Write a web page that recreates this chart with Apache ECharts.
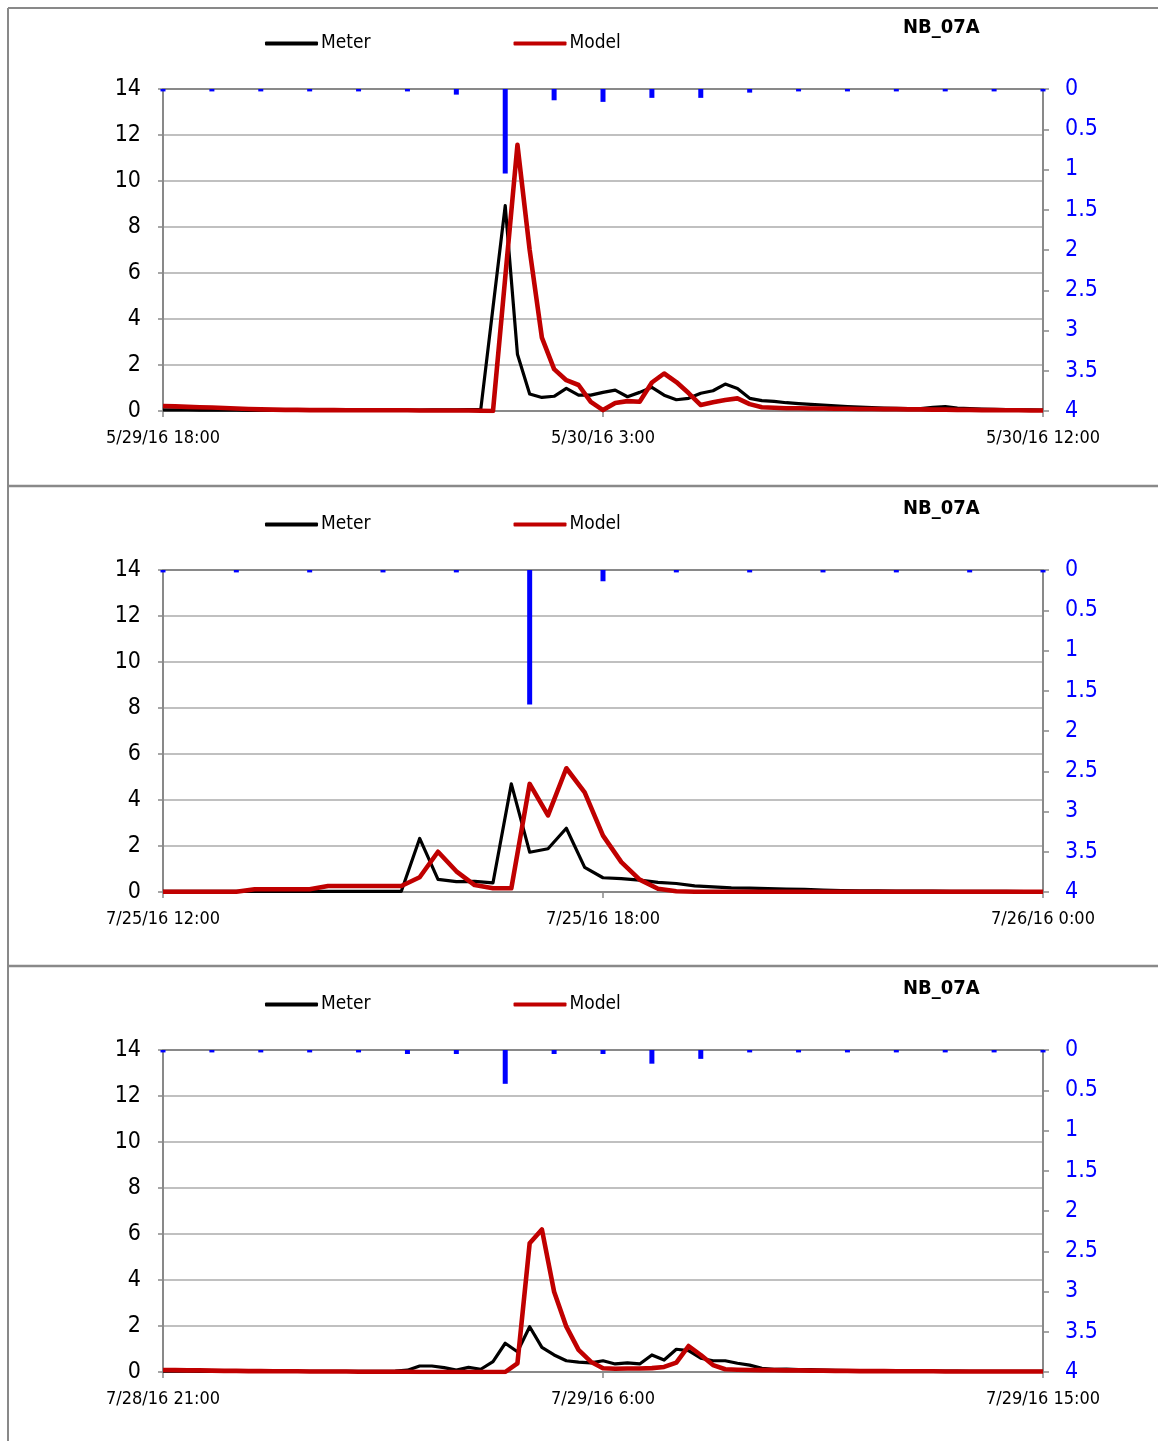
<!DOCTYPE html>
<html>
<head>
<meta charset="utf-8">
<script src="https://cdn.jsdelivr.net/npm/echarts@6/dist/echarts.min.js"></script>
<style>
  html, body { margin: 0; padding: 0; background: #fff; }
  #chart { width: 1158px; height: 1441px; }
</style>
</head>
<body>
<div id="chart"></div>
<script>
// Flow (left axis) sampled every 15 minutes; rainfall (right axis, inverted) hourly.
const STEP_HOURS = 0.25;

// Event 1: 5/29/16 18:00 - 5/30/16 12:00
const xLabels1 = ['5/29/16 18:00', '5/30/16 3:00', '5/30/16 12:00'];
const meter1 = [
  0.05,0.05,0.05,0.04,0.04,0.04,0.04,0.03,0.03,0.03,
  0.03,0.03,0.03,0.03,0.03,0.03,0.03,0.03,0.04,0.04,
  0.04,0.04,0.05,0.05,0.05,0.06,0.07,4.5,8.93,2.47,
  0.74,0.59,0.64,0.98,0.69,0.69,0.81,0.91,0.62,0.81,
  1.03,0.69,0.49,0.55,0.77,0.88,1.17,0.98,0.55,0.45,
  0.42,0.36,0.32,0.29,0.26,0.22,0.19,0.17,0.15,0.13,
  0.11,0.10,0.10,0.16,0.19,0.13,0.10,0.08,0.07,0.06,
  0.05,0.05,0.04
];
const model1 = [
  0.22,0.20,0.18,0.16,0.15,0.13,0.11,0.09,0.07,0.06,
  0.05,0.05,0.04,0.04,0.04,0.03,0.03,0.03,0.03,0.03,
  0.03,0.02,0.02,0.02,0.02,0.02,0.01,0.0,5.8,11.57,
  7.0,3.19,1.82,1.34,1.13,0.40,0.04,0.35,0.43,0.40,
  1.24,1.63,1.26,0.78,0.26,0.38,0.48,0.55,0.30,0.16,
  0.14,0.12,0.12,0.11,0.11,0.10,0.10,0.09,0.09,0.08,
  0.08,0.07,0.07,0.06,0.06,0.05,0.05,0.04,0.04,0.03,
  0.03,0.02,0.02
];
const rain1 = [0.03,0.03,0.03,0.03,0.03,0.03,0.07,1.05,0.14,0.16,0.11,0.11,0.045,0.03,0.03,0.03,0.03,0.03,0.03];

// Event 2: 7/25/16 12:00 - 7/26/16 0:00
const xLabels2 = ['7/25/16 12:00', '7/25/16 18:00', '7/26/16 0:00'];
const meter2 = [
  0.03,0.03,0.03,0.03,0.03,0.03,0.03,0.03,0.03,0.03,
  0.03,0.03,0.03,0.03,2.33,0.55,0.45,0.46,0.40,4.7,
  1.73,1.88,2.77,1.07,0.62,0.58,0.52,0.42,0.37,0.27,
  0.22,0.18,0.17,0.15,0.13,0.11,0.08,0.06,0.05,0.05,
  0.04,0.04,0.04,0.03,0.03,0.03,0.03,0.02,0.02
];
const model2 = [
  0.01,0.01,0.01,0.01,0.01,0.12,0.12,0.12,0.12,0.26,
  0.26,0.26,0.26,0.26,0.64,1.75,0.90,0.30,0.16,0.16,
  4.7,3.33,5.38,4.33,2.45,1.30,0.54,0.14,0.03,0.01,
  0.01,0.01,0.01,0.01,0.01,0.01,0.01,0.01,0.01,0.01,
  0.01,0.01,0.01,0.01,0.01,0.01,0.01,0.01,0.01
];
const rain2 = [0.03,0.03,0.03,0.03,0.03,1.67,0.14,0.03,0.03,0.03,0.03,0.03,0.03];

// Event 3: 7/28/16 21:00 - 7/29/16 15:00
const xLabels3 = ['7/28/16 21:00', '7/29/16 6:00', '7/29/16 15:00'];
const meter3 = [
  0.04,0.04,0.04,0.03,0.03,0.03,0.03,0.03,0.03,0.03,
  0.03,0.03,0.03,0.03,0.03,0.03,0.03,0.03,0.03,0.04,
  0.08,0.26,0.26,0.19,0.08,0.20,0.12,0.45,1.25,0.88,
  1.97,1.07,0.74,0.49,0.43,0.40,0.49,0.35,0.40,0.35,
  0.74,0.52,0.99,0.93,0.60,0.49,0.49,0.38,0.30,0.16,
  0.12,0.13,0.10,0.10,0.08,0.07,0.06,0.06,0.05,0.05,
  0.05,0.04,0.04,0.04,0.04,0.04,0.03,0.03,0.03,0.03,
  0.03,0.03,0.03
];
const model3 = [
  0.09,0.08,0.07,0.07,0.06,0.05,0.05,0.04,0.04,0.03,
  0.03,0.03,0.02,0.02,0.02,0.02,0.01,0.01,0.01,0.01,
  0.01,0.0,0.0,0.0,0.0,0.0,0.0,0.0,0.0,0.38,
  5.6,6.2,3.49,1.97,0.96,0.45,0.16,0.14,0.15,0.15,
  0.17,0.22,0.41,1.13,0.74,0.30,0.12,0.10,0.09,0.08,
  0.08,0.07,0.07,0.06,0.06,0.05,0.05,0.04,0.04,0.04,
  0.03,0.03,0.03,0.03,0.02,0.02,0.02,0.02,0.02,0.02,
  0.02,0.02,0.02
];
const rain3 = [0.03,0.03,0.03,0.03,0.03,0.05,0.05,0.42,0.05,0.05,0.17,0.11,0.03,0.03,0.03,0.03,0.03,0.03,0.03];

const flowTicks = { min: 0, max: 14, interval: 2 };
const rainTicks = { min: 0, max: 4, interval: 0.5 };
const siteName = 'NB_07A';
const seriesNames = ['Meter', 'Model'];

const events = [
  { labels: xLabels1, meter: meter1, model: model1, rain: rain1, top: 89,   span: 18 },
  { labels: xLabels2, meter: meter2, model: model2, rain: rain2, top: 570,  span: 12 },
  { labels: xLabels3, meter: meter3, model: model3, rain: rain3, top: 1050, span: 18 }
];

const FONT = '"Liberation Sans Narrow", "Arial Narrow", "DejaVu Sans Condensed", sans-serif';
const GRAY = '#898989';

const option = {
  animation: false,
  backgroundColor: '#fff',
  textStyle: { fontFamily: FONT },
  title: [], legend: [], grid: [], xAxis: [], yAxis: [], series: [],
  graphic: [
    { type: 'line', shape: { x1: 8, y1: 8, x2: 1158, y2: 8 }, style: { stroke: GRAY, lineWidth: 2 } },
    { type: 'line', shape: { x1: 8, y1: 8, x2: 8, y2: 1441 }, style: { stroke: GRAY, lineWidth: 2 } },
    { type: 'line', shape: { x1: 8, y1: 486, x2: 1158, y2: 486 }, style: { stroke: GRAY, lineWidth: 2.5 } },
    { type: 'line', shape: { x1: 8, y1: 966, x2: 1158, y2: 966 }, style: { stroke: GRAY, lineWidth: 2.5 } }
  ]
};

events.forEach((ev, i) => {
  const half = ev.span / 2;
  option.title.push({
    text: siteName, left: 903, top: ev.top - 71, padding: 0,
    textStyle: { fontFamily: FONT, fontSize: 20, fontWeight: 'bold', color: '#000' }
  });
  option.legend.push({
    data: seriesNames, left: 265, top: ev.top - 55, itemGap: 143, padding: 0,
    icon: 'roundRect', itemWidth: 53, itemHeight: 4,
    textStyle: { fontFamily: FONT, fontSize: 19, color: '#000', padding: [0, 0, 0, -2] },
    selectedMode: false
  });
  option.grid.push({ left: 163, right: 115, top: ev.top, height: 322, outerBoundsMode: 'none' });

  // bottom time axis
  option.xAxis.push({
    type: 'value', gridIndex: i, min: 0, max: ev.span, interval: half,
    axisLine: { show: true, onZero: false, lineStyle: { color: GRAY, width: 2 } },
    axisTick: { show: true, length: 6, lineStyle: { color: GRAY, width: 1.5 } },
    splitLine: { show: false },
    axisLabel: {
      margin: 18, fontSize: 18, color: '#000', fontFamily: FONT,
      formatter: v => ev.labels[Math.round(v / half)] || ''
    }
  });
  // top frame line of the plot
  option.xAxis.push({
    type: 'value', gridIndex: i, min: 0, max: ev.span, position: 'top',
    axisLine: { show: true, onZero: false, lineStyle: { color: GRAY, width: 2 } },
    axisTick: { show: false }, axisLabel: { show: false }, splitLine: { show: false }
  });

  // left flow axis
  option.yAxis.push({
    type: 'value', gridIndex: i, position: 'left',
    min: flowTicks.min, max: flowTicks.max, interval: flowTicks.interval,
    axisLine: { show: true, onZero: false, lineStyle: { color: GRAY, width: 2 } },
    axisTick: { show: true, length: 5, lineStyle: { color: GRAY, width: 1.5 } },
    splitLine: { show: true, lineStyle: { color: '#c0c0c0', width: 2 } },
    axisLabel: { margin: 22, fontSize: 23, color: '#000', fontFamily: FONT }
  });
  // right rainfall axis (inverted)
  option.yAxis.push({
    type: 'value', gridIndex: i, position: 'right', inverse: true,
    min: rainTicks.min, max: rainTicks.max, interval: rainTicks.interval,
    axisLine: { show: true, onZero: false, lineStyle: { color: GRAY, width: 2 } },
    axisTick: { show: true, length: 6, lineStyle: { color: GRAY, width: 1.5 } },
    splitLine: { show: false },
    axisLabel: { margin: 22, fontSize: 23, color: '#0000ff', fontFamily: FONT }
  });

  option.series.push({
    name: 'Rain', type: 'bar', xAxisIndex: i * 2, yAxisIndex: i * 2 + 1,
    barWidth: 5, itemStyle: { color: '#0000ff' },
    data: ev.rain.map((v, h) => [h, v]), z: 2
  });
  option.series.push({
    name: 'Meter', type: 'line', xAxisIndex: i * 2, yAxisIndex: i * 2,
    showSymbol: false, symbol: 'none', color: '#000',
    lineStyle: { color: '#000', width: 3.2, join: 'round' },
    data: ev.meter.map((v, k) => [k * STEP_HOURS, v]), z: 3
  });
  option.series.push({
    name: 'Model', type: 'line', xAxisIndex: i * 2, yAxisIndex: i * 2,
    showSymbol: false, symbol: 'none', color: '#c00000',
    lineStyle: { color: '#c00000', width: 4.6, join: 'round' },
    data: ev.model.map((v, k) => [k * STEP_HOURS, v]), z: 4
  });
});

const chart = echarts.init(document.getElementById('chart'), null, { renderer: 'canvas' });
chart.setOption(option);
</script>
</body>
</html>
